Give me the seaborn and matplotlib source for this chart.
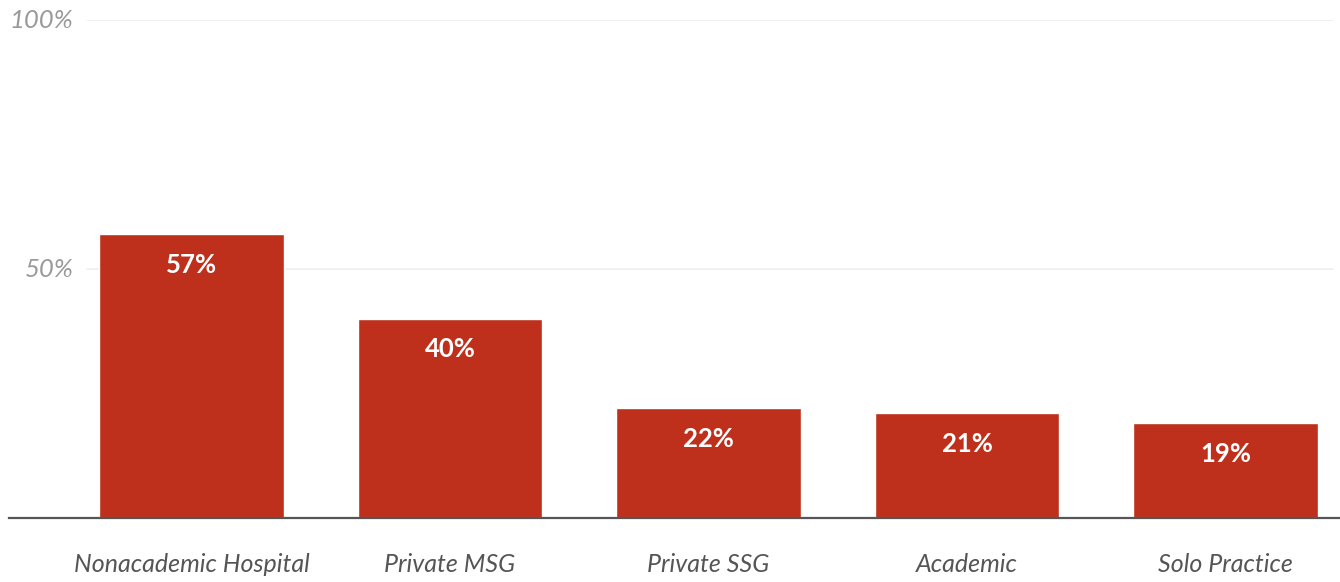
import pandas as pd
import seaborn as sns
import matplotlib.pyplot as plt

# data
categories = ['Nonacademic Hospital', 'Private MSG', 'Private SSG',
              'Academic', 'Solo Practice']
values = [57, 40, 22, 21, 19]
y_ticks = [50, 100]
y_tick_labels = ['50%', '100%']

BAR_COLOR = '#BE301C'

df = pd.DataFrame({'category': categories, 'value': values})

sns.set_style('white')
plt.rcParams['font.family'] = ['Lato', 'DejaVu Sans']

fig = plt.figure(figsize=(13.4, 5.82), dpi=100)
ax = fig.add_axes([9 / 1340, 64 / 582, 1331 / 1340, 498 / 582])

sns.barplot(df, x='category', y='value', color=BAR_COLOR, width=0.713,
            saturation=1, ax=ax)

# gridlines
for t in y_ticks:
    ax.axhline(t, xmin=0.0586, xmax=0.995, color='#efefef', lw=1.2,
               zorder=0)

ax.set_ylim(0, 100)
ax.set_xlim(-0.706, 4.443)

# value labels inside bars
for i, v in enumerate(values):
    ax.annotate(f'{v}%', (i, v), xytext=(0, -22), textcoords='offset points',
                ha='center', va='center', color='white', fontsize=18.5,
                fontweight='bold')

ax.set_yticks(y_ticks, y_tick_labels)
ax.tick_params(axis='y', length=0, pad=-46.5, labelsize=18.5,
               labelcolor='#9a9a9a')
for lbl in ax.get_yticklabels():
    lbl.set_fontstyle('italic')
    lbl.set_verticalalignment('center')

ax.tick_params(axis='x', length=0, pad=25, labelsize=18,
               labelcolor='#555555')
for lbl in ax.get_xticklabels():
    lbl.set_fontstyle('italic')

ax.set_xlabel('')
ax.set_ylabel('')
for side in ['top', 'right', 'left']:
    ax.spines[side].set_visible(False)
ax.spines['bottom'].set_color('#555555')
ax.spines['bottom'].set_linewidth(1.6)

fig.savefig('out.png', dpi=100)
